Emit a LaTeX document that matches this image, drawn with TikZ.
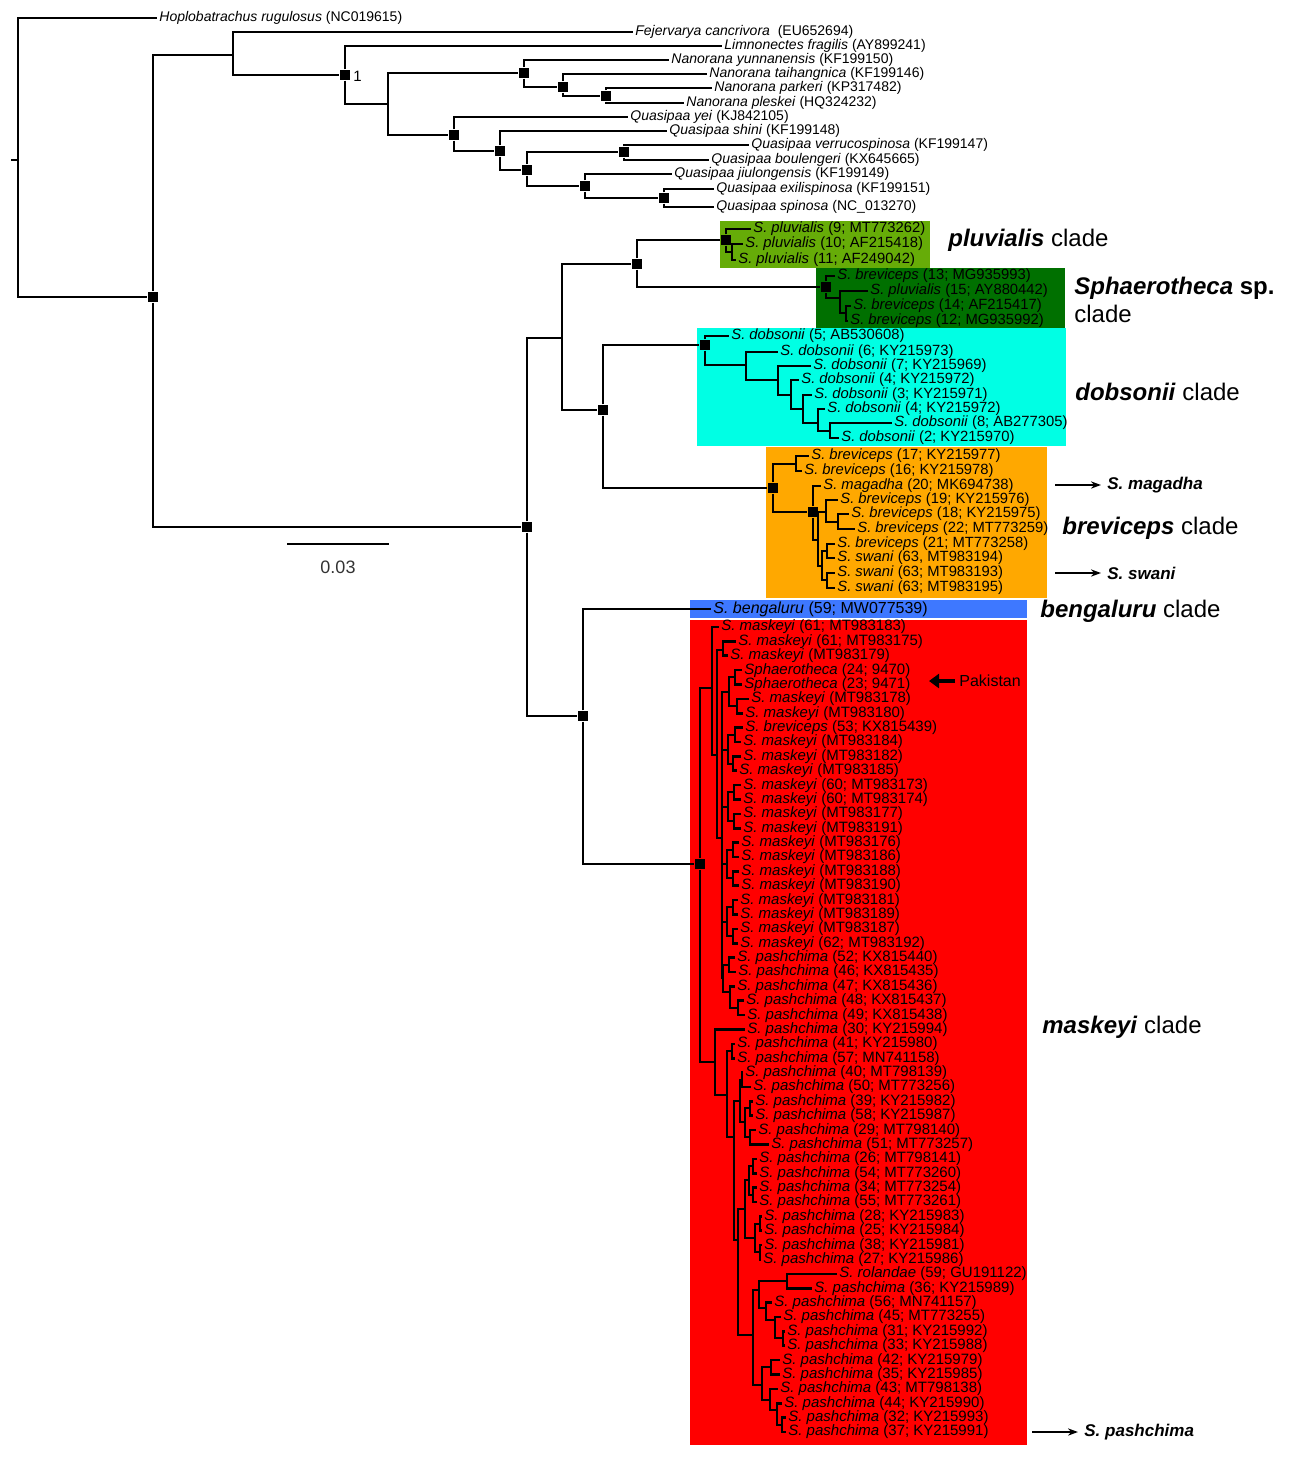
\documentclass[tikz,border=0pt]{standalone}
\usepackage{fontspec}
\setmainfont{Liberation Sans}
\usetikzlibrary{arrows.meta}
\definecolor{pluvgreen}{RGB}{102,172,8}
\definecolor{sspgreen}{RGB}{0,112,0}
\definecolor{dobcyan}{RGB}{0,255,228}
\definecolor{breorange}{RGB}{255,168,0}
\definecolor{benblue}{RGB}{62,120,255}
\definecolor{maskred}{RGB}{255,0,0}
\tikzset{
  br/.style={line width=1.3pt, line join=miter},
  bsq/.style={rectangle, fill=black, minimum size=5.2pt, inner sep=0pt},
  tiplab/.style={anchor=west, inner xsep=1pt, inner ysep=0.5pt,
                 font=\fontsize{7}{8}\selectfont},
  tiplabS/.style={tiplab, font=\fontsize{7.4}{8}\selectfont},
  tiplabM/.style={tiplab, font=\fontsize{7.5}{8}\selectfont},
  cladelab/.style={anchor=west, inner sep=0pt, align=left,
                   font=\fontsize{12}{14}\selectfont},
  arrlab/.style={anchor=west, inner sep=0pt,
                 font=\fontsize{8.5}{10}\selectfont\bfseries\itshape},
  arr/.style={-{Stealth[length=5pt,width=3.6pt]}, line width=0.9pt},
}
\begin{document}
\begin{tikzpicture}[x=0.5pt, y=-0.5pt]
  \useasboundingbox (0,0) rectangle (1290,1457);

  % Clade boxes
  \fill[pluvgreen] (720,221) rectangle (930,268);
  \fill[sspgreen]  (816,268) rectangle (1065,329);
  \fill[dobcyan]   (697,328) rectangle (1066,446);
  \fill[breorange] (766,447) rectangle (1047,598);
  \fill[benblue]   (690,600) rectangle (1027,618);
  \fill[maskred]   (690,620) rectangle (1027,1445);

  % Outgroup nodes
  \coordinate (stub) at (11,160);
  \coordinate (r0)   at (18,160);
  \node[bsq] (nA)    at (153,297) {};
  \coordinate (nOut) at (233,55);
  \node[bsq] (nN1)   at (345,75) {};
  \coordinate (nN2)  at (388,104);
  \node[bsq] (nNan)  at (524,73) {};
  \node[bsq] (nNan2) at (563,87) {};
  \node[bsq] (nNan3) at (606,96) {};
  \node[bsq] (nQ)    at (454,135) {};
  \node[bsq] (nQ2)   at (500,151) {};
  \node[bsq] (nQ3)   at (527,170) {};
  \node[bsq] (nQ4)   at (624,152) {};
  \node[bsq] (nQ5)   at (585,186) {};
  \node[bsq] (nQ6)   at (664,198) {};
  \node[anchor=west, inner sep=0pt, font=\fontsize{7.5}{8}\selectfont] (supN1) at (353,76) {1};

  % Outgroup tips
  \node[tiplab] (tHop) at (157,18)  {\textit{Hoplobatrachus rugulosus} (NC019615)};
  \node[tiplab] (tFej) at (633,32)  {\textit{Fejervarya cancrivora}\ \ (EU652694)};
  \node[tiplab] (tLim) at (722,46)  {\textit{Limnonectes fragilis} (AY899241)};
  \node[tiplab] (tYun) at (669,60)  {\textit{Nanorana yunnanensis} (KF199150)};
  \node[tiplab] (tTai) at (707,74)  {\textit{Nanorana taihangnica} (KF199146)};
  \node[tiplab] (tPar) at (712,88)  {\textit{Nanorana parkeri} (KP317482)};
  \node[tiplab] (tPle) at (684,103) {\textit{Nanorana pleskei} (HQ324232)};
  \node[tiplab] (tYei) at (628,117) {\textit{Quasipaa yei} (KJ842105)};
  \node[tiplab] (tShi) at (667,131) {\textit{Quasipaa shini} (KF199148)};
  \node[tiplab] (tVer) at (749,145) {\textit{Quasipaa verrucospinosa} (KF199147)};
  \node[tiplab] (tBou) at (709,160) {\textit{Quasipaa boulengeri} (KX645665)};
  \node[tiplab] (tJiu) at (672,174) {\textit{Quasipaa jiulongensis} (KF199149)};
  \node[tiplab] (tExi) at (714,189) {\textit{Quasipaa exilispinosa} (KF199151)};
  \node[tiplab] (tSpi) at (714,207) {\textit{Quasipaa spinosa} (NC\_013270)};

  % Sphaerotheca nodes
  \node[bsq] (nB)     at (527,527) {};
  \coordinate (nC1)   at (562,338);
  \node[bsq] (nPS)    at (637,264) {};
  \node[bsq] (nPlu)   at (726,240) {};
  \coordinate (nPlu2) at (732,252);
  \node[bsq] (nSsp)   at (826,287) {};
  \coordinate (nSsp2) at (840,298);
  \coordinate (nSsp3) at (846,313);
  \node[bsq] (nDB)    at (603,410) {};
  \node[bsq] (nDob)   at (705,345) {};
  \coordinate (nD2) at (746,365);
  \coordinate (nD3) at (778,380);
  \coordinate (nD4) at (791,395);
  \coordinate (nD5) at (803,409);
  \coordinate (nD6) at (818,423);
  \coordinate (nD7) at (830,431);
  \node[bsq] (nBre)  at (773,488) {};
  \coordinate (nBr1) at (796,464);
  \node[bsq] (nBr2)  at (813,512) {};
  \coordinate (nBr9) at (818,540);
  \coordinate (nBr3) at (826,512);
  \coordinate (nBr4) at (838,522);
  \coordinate (nBr6) at (822,566);
  \coordinate (nBr7) at (827,551);
  \coordinate (nBr8) at (827,580);
  \node[bsq] (nC) at (583,716) {};
  \node[bsq] (nM) at (700,864) {};

  % Sphaerotheca tips
  \node[tiplabS] (tP9)  at (751,229) {\textit{S. pluvialis} (9; MT773262)};
  \node[tiplabS] (tP10) at (743,244) {\textit{S. pluvialis} (10; AF215418)};
  \node[tiplabS] (tP11) at (736,260) {\textit{S. pluvialis} (11; AF249042)};
  \node[tiplabS] (tB13) at (835,276) {\textit{S. breviceps} (13; MG935993)};
  \node[tiplabS] (tP15) at (868,291) {\textit{S. pluvialis} (15; AY880442)};
  \node[tiplabS] (tB14) at (851,306) {\textit{S. breviceps} (14; AF215417)};
  \node[tiplabS] (tB12) at (848,321) {\textit{S. breviceps} (12; MG935992)};
  \node[tiplabS] (tD5)  at (729,336) {\textit{S. dobsonii} (5; AB530608)};
  \node[tiplabS] (tD6)  at (778,352) {\textit{S. dobsonii} (6; KY215973)};
  \node[tiplabS] (tD7)  at (811,366) {\textit{S. dobsonii} (7; KY215969)};
  \node[tiplabS] (tD4a) at (799,380) {\textit{S. dobsonii} (4; KY215972)};
  \node[tiplabS] (tD3)  at (812,395) {\textit{S. dobsonii} (3; KY215971)};
  \node[tiplabS] (tD4b) at (825,409) {\textit{S. dobsonii} (4; KY215972)};
  \node[tiplabS] (tD8)  at (892,423) {\textit{S. dobsonii} (8; AB277305)};
  \node[tiplabS] (tD2)  at (839,438) {\textit{S. dobsonii} (2; KY215970)};
  \node[tiplabS] (tB17) at (809,456) {\textit{S. breviceps} (17; KY215977)};
  \node[tiplabS] (tB16) at (802,471) {\textit{S. breviceps} (16; KY215978)};
  \node[tiplabS] (tMag) at (821,486) {\textit{S. magadha} (20; MK694738)};
  \node[tiplabS] (tB19) at (838,500) {\textit{S. breviceps} (19; KY215976)};
  \node[tiplabS] (tB18) at (849,514) {\textit{S. breviceps} (18; KY215975)};
  \node[tiplabS] (tB22) at (855,529) {\textit{S. breviceps} (22; MT773259)};
  \node[tiplabS] (tB21) at (835,544) {\textit{S. breviceps} (21; MT773258)};
  \node[tiplabS] (tSw1) at (835,558) {\textit{S. swani} (63, MT983194)};
  \node[tiplabS] (tSw2) at (835,573) {\textit{S. swani} (63; MT983193)};
  \node[tiplabS] (tSw3) at (835,588) {\textit{S. swani} (63; MT983195)};
  \node[tiplab, font=\fontsize{8}{9}\selectfont] (tBen) at (711,609) {\textit{S. bengaluru} (59; MW077539)};

  % maskeyi clade tips
  \foreach \lx/\sp/\acc [count=\i] in {
      720/S. maskeyi/(61; MT983183), 737/S. maskeyi/(61; MT983175),
      729/S. maskeyi/(MT983179), 743/Sphaerotheca/(24; 9470),
      743/Sphaerotheca/(23; 9471), 750/S. maskeyi/(MT983178),
      744/S. maskeyi/(MT983180), 744/S. breviceps/(53; KX815439),
      742/S. maskeyi/(MT983184), 742/S. maskeyi/(MT983182),
      738/S. maskeyi/(MT983185), 742/S. maskeyi/(60; MT983173),
      742/S. maskeyi/(60; MT983174), 742/S. maskeyi/(MT983177),
      742/S. maskeyi/(MT983191), 740/S. maskeyi/(MT983176),
      740/S. maskeyi/(MT983186), 740/S. maskeyi/(MT983188),
      740/S. maskeyi/(MT983190), 739/S. maskeyi/(MT983181),
      739/S. maskeyi/(MT983189), 739/S. maskeyi/(MT983187),
      739/S. maskeyi/(62; MT983192), 736/S. pashchima/(52; KX815440),
      737/S. pashchima/(46; KX815435), 736/S. pashchima/(47; KX815436),
      745/S. pashchima/(48; KX815437), 746/S. pashchima/(49; KX815438),
      746/S. pashchima/(30; KY215994), 736/S. pashchima/(41; KY215980),
      736/S. pashchima/(57; MN741158), 744/S. pashchima/(40; MT798139),
      752/S. pashchima/(50; MT773256), 754/S. pashchima/(39; KY215982),
      754/S. pashchima/(58; KY215987), 757/S. pashchima/(29; MT798140),
      770/S. pashchima/(51; MT773257), 758/S. pashchima/(26; MT798141),
      758/S. pashchima/(54; MT773260), 758/S. pashchima/(34; MT773254),
      758/S. pashchima/(55; MT773261), 763/S. pashchima/(28; KY215983),
      763/S. pashchima/(25; KY215984), 763/S. pashchima/(38; KY215981),
      762/S. pashchima/(27; KY215986), 838/S. rolandae/(59; GU191122),
      813/S. pashchima/(36; KY215989), 773/S. pashchima/(56; MN741157),
      782/S. pashchima/(45; MT773255), 786/S. pashchima/(31; KY215992),
      786/S. pashchima/(33; KY215988), 781/S. pashchima/(42; KY215979),
      781/S. pashchima/(35; KY215985), 779/S. pashchima/(43; MT798138),
      783/S. pashchima/(44; KY215990), 787/S. pashchima/(32; KY215993),
      787/S. pashchima/(37; KY215991)}
    \node[tiplabM] (m\i) at ({\lx-1},{627+14.375*(\i-1)}) {\textit{\sp} \acc};

  % maskeyi clade nodes
  \coordinate (nMa) at (712,688);   \coordinate (nMc) at (717,755);
  \coordinate (nM23) at (723,650);  \coordinate (nMd) at (722,838);
  \coordinate (nMe) at (729,692);   \coordinate (nPak) at (735,677);
  \coordinate (nM67) at (737,706);  \coordinate (nMf) at (728,750);
  \coordinate (nM89) at (735,735);  \coordinate (nM1011) at (733,764);
  \coordinate (nMg) at (728,807);   \coordinate (nM1213) at (734,792);
  \coordinate (nM1415) at (734,821); \coordinate (nMh) at (727,864);
  \coordinate (nM1617) at (733,850); \coordinate (nM1819) at (733,878);
  \coordinate (nMi) at (727,922);   \coordinate (nM2021) at (733,907);
  \coordinate (nM2223) at (733,936); \coordinate (nMj) at (723,978);
  \coordinate (nM2425) at (729,965); \coordinate (nMk) at (730,992);
  \coordinate (nM2728) at (738,1008);
  \coordinate (nMb) at (715,1062);  \coordinate (nMl) at (727,1095);
  \coordinate (nM3031) at (732,1051); \coordinate (nMm) at (734,1137);
  \coordinate (nMn) at (740,1101);  \coordinate (nM3233) at (742,1080);
  \coordinate (nM3437) at (745,1122); \coordinate (nM3435) at (750,1108);
  \coordinate (nM3637) at (750,1137); \coordinate (nMo) at (738,1240);
  \coordinate (nM3845) at (745,1209); \coordinate (nM3841) at (749,1180);
  \coordinate (nM3839) at (753,1166); \coordinate (nM4041) at (753,1195);
  \coordinate (nM4245) at (755,1238); \coordinate (nM4243) at (760,1224);
  \coordinate (nM4445) at (760,1252); \coordinate (nMs) at (753,1335);
  \coordinate (nMt) at (759,1290);  \coordinate (nM4647) at (787,1281);
  \coordinate (nMv) at (766,1308);  \coordinate (nMw) at (775,1320);
  \coordinate (nM5051) at (783,1338); \coordinate (nMu) at (762,1385);
  \coordinate (nM5253) at (771,1367); \coordinate (nMx) at (770,1400);
  \coordinate (nMy) at (777,1410);  \coordinate (nMz) at (782,1425);

  % Branches
  \draw[br] (stub) -- (r0);
  \foreach \p/\c in {r0/tHop, r0/nA, nA/nOut, nA/nB, nOut/tFej, nOut/nN1,
      nN1/tLim, nN1/nN2, nN2/nNan, nN2/nQ, nNan/tYun, nNan/nNan2,
      nNan2/tTai, nNan2/nNan3, nNan3/tPar, nNan3/tPle, nQ/tYei, nQ/nQ2,
      nQ2/tShi, nQ2/nQ3, nQ3/nQ4, nQ3/nQ5, nQ4/tVer, nQ4/tBou, nQ5/tJiu,
      nQ5/nQ6, nQ6/tExi, nQ6/tSpi}
    \draw[br] (\p) |- (\c);
  \foreach \p/\c in {nB/nC1, nB/nC, nC1/nPS, nC1/nDB, nPS/nPlu, nPS/nSsp,
      nPlu/tP9, nPlu/nPlu2, nPlu2/tP10, nPlu2/tP11, nSsp/tB13, nSsp/nSsp2,
      nSsp2/tP15, nSsp2/nSsp3, nSsp3/tB14, nSsp3/tB12, nDB/nDob, nDB/nBre,
      nDob/tD5, nDob/nD2, nD2/tD6, nD2/nD3, nD3/tD7, nD3/nD4, nD4/tD4a,
      nD4/nD5, nD5/tD3, nD5/nD6, nD6/tD4b, nD6/nD7, nD7/tD8, nD7/tD2,
      nBre/nBr1, nBre/nBr2, nBr1/tB17, nBr1/tB16, nBr2/tMag, nBr2/nBr9,
      nBr9/nBr3, nBr9/nBr6, nBr3/tB19, nBr3/nBr4, nBr4/tB18, nBr4/tB22,
      nBr6/nBr7, nBr6/nBr8, nBr7/tB21, nBr7/tSw1, nBr8/tSw2, nBr8/tSw3,
      nC/tBen, nC/nM}
    \draw[br] (\p) |- (\c);
  \foreach \p/\c in {nM/nMa, nM/nMb, nMa/m1, nMa/nMc, nMc/nM23, nMc/nMd,
      nM23/m2, nM23/m3, nMd/nMe, nMd/nMf, nMd/nMg, nMd/nMh, nMd/nMi,
      nMd/nMj, nMe/nPak, nMe/nM67, nPak/m4, nPak/m5, nM67/m6, nM67/m7,
      nMf/nM89, nMf/nM1011, nM89/m8, nM89/m9, nM1011/m10, nM1011/m11,
      nMg/nM1213, nMg/nM1415, nM1213/m12, nM1213/m13, nM1415/m14,
      nM1415/m15, nMh/nM1617, nMh/nM1819, nM1617/m16, nM1617/m17,
      nM1819/m18, nM1819/m19, nMi/nM2021, nMi/nM2223, nM2021/m20,
      nM2021/m21, nM2223/m22, nM2223/m23, nMj/nM2425, nMj/nMk,
      nM2425/m24, nM2425/m25, nMk/m26, nMk/nM2728, nM2728/m27, nM2728/m28,
      nMb/m29, nMb/nMl, nMl/nM3031, nMl/nMm, nM3031/m30, nM3031/m31,
      nMm/nMn, nMm/nMo, nMn/nM3233, nMn/nM3437, nM3233/m32, nM3233/m33,
      nM3437/nM3435, nM3437/nM3637, nM3435/m34, nM3435/m35, nM3637/m36,
      nM3637/m37, nMo/nM3845, nMo/nMs, nM3845/nM3841, nM3845/nM4245,
      nM3841/nM3839, nM3841/nM4041, nM3839/m38, nM3839/m39, nM4041/m40,
      nM4041/m41, nM4245/nM4243, nM4245/nM4445, nM4243/m42, nM4243/m43,
      nM4445/m44, nM4445/m45, nMs/nMt, nMs/nMu, nMt/nM4647, nMt/nMv,
      nM4647/m46, nM4647/m47, nMv/m48, nMv/nMw, nMw/m49, nMw/nM5051,
      nM5051/m50, nM5051/m51, nMu/nM5253, nMu/nMx, nM5253/m52,
      nM5253/m53, nMx/m54, nMx/nMy, nMy/m55, nMy/nMz, nMz/m56, nMz/m57}
    \draw[br] (\p) |- (\c);

  % Clade names
  \node[cladelab] (labPlu) at (948,240)  {\textbf{\textit{pluvialis}} clade};
  \node[cladelab] (labSsp) at (1074,300) {\textbf{\textit{Sphaerotheca} sp.}\\clade};
  \node[cladelab] (labDob) at (1075,392) {\textbf{\textit{dobsonii}} clade};
  \node[cladelab] (labBre) at (1062,528) {\textbf{\textit{breviceps}} clade};
  \node[cladelab] (labBen) at (1040,611) {\textbf{\textit{bengaluru}} clade};
  \node[cladelab] (labMas) at (1042,1027) {\textbf{\textit{maskeyi}} clade};

  % Species arrows
  \node[arrlab] (spMag) at (1107,485)  {S. magadha};
  \node[arrlab] (spSwa) at (1107,573)  {S. swani};
  \node[arrlab] (spPas) at (1084,1432) {S. pashchima};
  \coordinate (magS) at (1055,485);
  \coordinate (swaS) at (1055,573);
  \coordinate (pasS) at (1032,1432);
  \draw[arr, shorten >=3pt] (magS) -- (spMag);
  \draw[arr, shorten >=3pt] (swaS) -- (spSwa);
  \draw[arr, shorten >=3pt] (pasS) -- (spPas);
  \node[anchor=west, inner sep=0pt, font=\fontsize{8}{9}\selectfont] (pak) at (959,681) {Pakistan};
  \coordinate (pakE) at (929,681);
  \draw[line width=2.4pt, -{Triangle[length=5pt,width=7pt]}, shorten <=2pt] (pak) -- (pakE);

  % Scale bar
  \coordinate (sbL) at (287,544);
  \coordinate (sbR) at (389,544);
  \draw[br] (sbL) -- (sbR);
  \node[font=\fontsize{9}{10}\selectfont, text=black!80] (sbLab) at (338,567) {0.03};
\end{tikzpicture}
\end{document}
